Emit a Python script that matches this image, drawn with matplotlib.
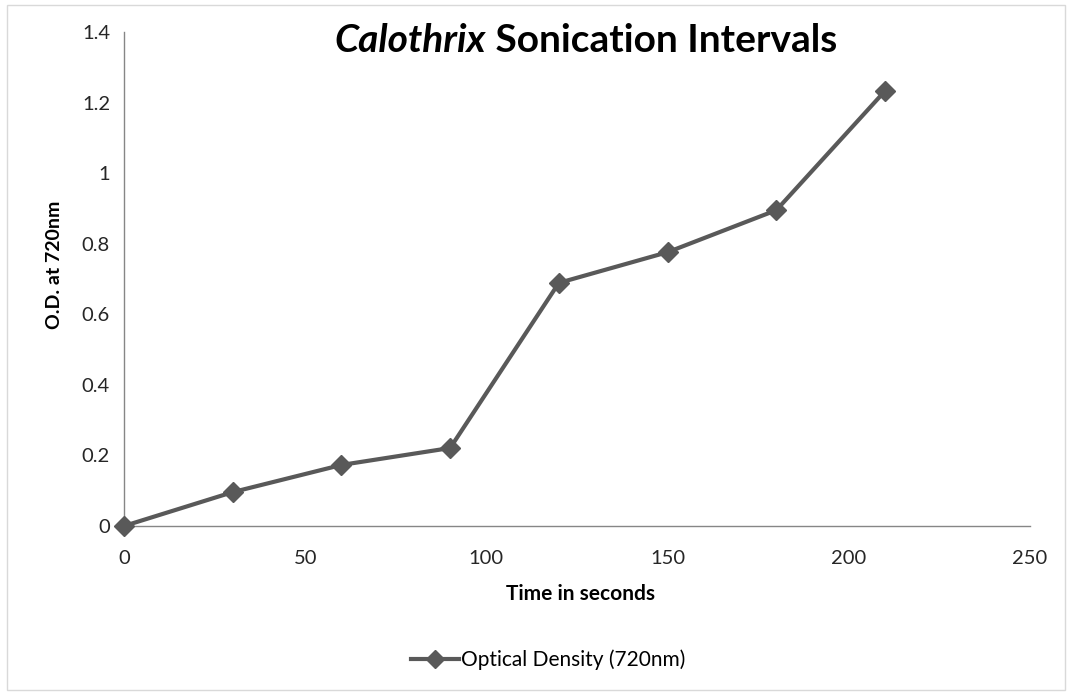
import matplotlib
matplotlib.use("Agg")
import matplotlib.pyplot as plt
from matplotlib.patches import Rectangle

time_s = [0, 30, 60, 90, 120, 150, 180, 210]
od720 = [0.0, 0.096, 0.173, 0.221, 0.689, 0.776, 0.895, 1.233]
xticks = [0, 50, 100, 150, 200, 250]
yticks = [0, 0.2, 0.4, 0.6, 0.8, 1.0, 1.2, 1.4]
yticklabels = ["0", "0.2", "0.4", "0.6", "0.8", "1", "1.2", "1.4"]

plt.rcParams['font.family'] = ['Lato', 'DejaVu Sans']

W, H = 1070, 694
fig = plt.figure(figsize=(W/100, H/100), dpi=100)
fig.patches.append(Rectangle((7/W, 4/H), (W-12)/W, (H-9)/H, transform=fig.transFigure,
                             fill=False, edgecolor='#d9d9d9', linewidth=1))

left, right, top, bottom = 124, 1030, 32, 526
ax = fig.add_axes([left/W, 1-bottom/H, (right-left)/W, (bottom-top)/H])
color = '#595959'
ax.plot(time_s, od720, color=color, linewidth=3, marker='D', markersize=10,
        label='Optical Density (720nm)', clip_on=False, zorder=3)
ax.set_xlim(0, 250)
ax.set_ylim(0, 1.4)
ax.set_xticks(xticks)
ax.set_yticks(yticks)
ax.set_yticklabels(yticklabels)
for s in ['top', 'right']:
    ax.spines[s].set_visible(False)
for s in ['left', 'bottom']:
    ax.spines[s].set_color('#868686')
    ax.spines[s].set_linewidth(1)
ax.tick_params(length=0, labelsize=14.5, colors='#262626', pad=10)
ax.tick_params(axis='x', pad=17)
ax.set_xlabel('Time in seconds', fontsize=15, fontweight='bold')
ax.set_ylabel('O.D. at 720nm', fontsize=14, fontweight='bold')
ax.xaxis.set_label_coords((580-left)/(right-left), 1 - (594-top)/(bottom-top))
ax.xaxis.label.set_va('center')
ax.yaxis.set_label_coords((55-left)/(right-left), (bottom-265)/(bottom-top))
ax.yaxis.label.set_va('center')

t1 = fig.text(0, 1-41/H, 'Calothrix', fontsize=28, fontweight='bold', fontstyle='italic',
              ha='left', va='center', color='black')
t2 = fig.text(0, 1-41/H, ' Sonication Intervals', fontsize=28, fontweight='bold',
              ha='left', va='center', color='black')
fig.canvas.draw()
r = fig.canvas.get_renderer()
w1 = t1.get_window_extent(r).width
w2 = t2.get_window_extent(r).width
x0 = 586 - (w1 + w2) / 2
t1.set_x(x0 / W)
t2.set_x((x0 + w1) / W)

leg = ax.legend(loc='center', bbox_to_anchor=(548/W, 1-660/H), bbox_transform=fig.transFigure,
                frameon=False, fontsize=15, handlelength=2.3, handletextpad=0.1,
                markerscale=0.9)

fig.savefig('out.png', dpi=100)
